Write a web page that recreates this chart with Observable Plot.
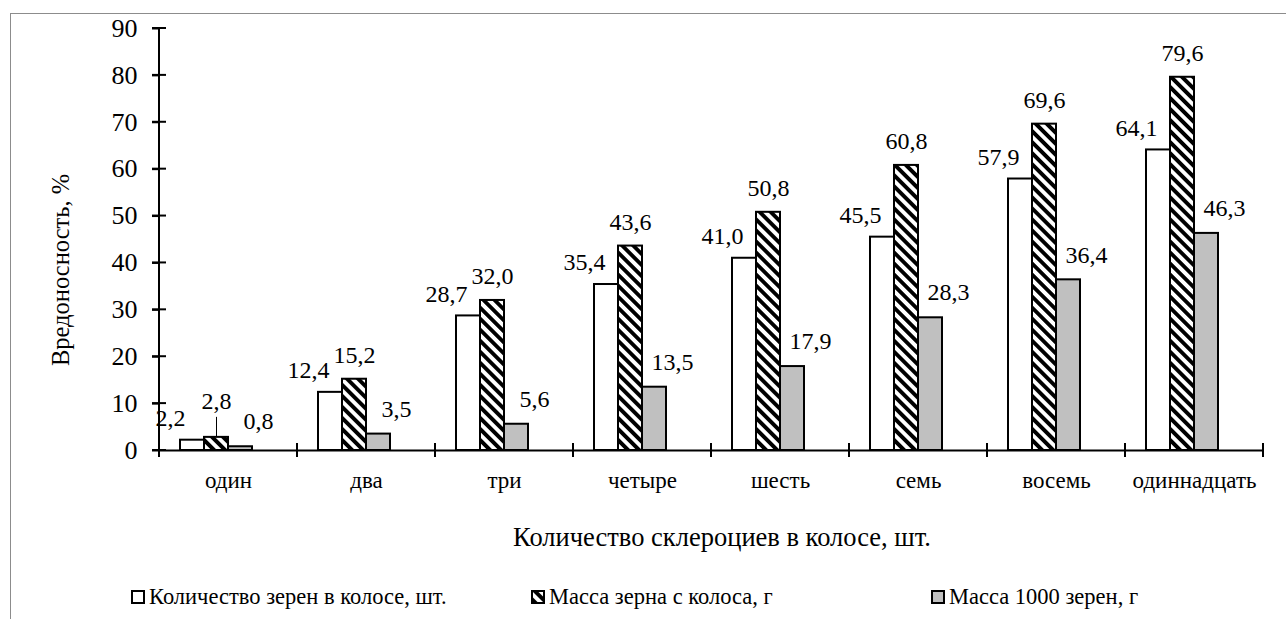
<!DOCTYPE html>
<html><head><meta charset="utf-8">
<script src="https://cdn.jsdelivr.net/npm/d3@7"></script>
<script src="https://cdn.jsdelivr.net/npm/@observablehq/plot@0.6"></script>
<style>
html,body{margin:0;padding:0;background:#fff;}
body{width:1286px;height:619px;position:relative;overflow:hidden;color:#000;}
#frame{position:absolute;left:10px;top:13px;width:2000px;height:2000px;border-left:1.5px solid #8c8c8c;border-top:1.5px solid #8c8c8c;}
#chart{position:absolute;left:0;top:0;}
#legend{position:absolute;left:131px;top:582px;display:flex;font-size:22.5px;line-height:30px;}
.item{width:400px;display:flex;align-items:center;}
.item svg{margin-right:4px;}
#ytitle{position:absolute;left:61px;top:270px;font-size:24.5px;white-space:nowrap;transform:translate(-50%,-50%) rotate(-90deg);line-height:1;}
#xtitle{position:absolute;left:722px;top:537px;font-size:26.5px;white-space:nowrap;transform:translate(-50%,-50%);line-height:1;}
</style></head><body>
<div id="frame"></div>
<div id="chart"></div>
<div id="ytitle"></div>
<div id="xtitle"></div>
<div id="legend"></div>
<script>
const categories = ["один","два","три","четыре","шесть","семь","восемь","одиннадцать"];
const seriesNames = ["Количество зерен в колосе, шт.","Масса зерна с колоса, г","Масса 1000 зерен, г"];
const grainsPerEar = [2.2,12.4,28.7,35.4,41.0,45.5,57.9,64.1];
const grainMassPerEar = [2.8,15.2,32.0,43.6,50.8,60.8,69.6,79.6];
const thousandGrainMass = [0.8,3.5,5.6,13.5,17.9,28.3,36.4,46.3];
const yTicks = [0,10,20,30,40,50,60,70,80,90];
const yTitle = "Вредоносность, %";
const xTitle = "Количество склероциев в колосе, шт.";

const FONT = "'Liberation Serif', 'Times New Roman', serif";
document.body.style.fontFamily = FONT;

const seriesValues = [grainsPerEar, grainMassPerEar, thousandGrainMass];
const fills = ["white", "url(#hatch)", "#c0c0c0"];
const rows = [];
categories.forEach((c, i) => seriesValues.forEach((vals, s) => rows.push({cat: c, series: seriesNames[s], value: vals[i]})));
const fmt = v => v.toFixed(1).replace(".", ",");
const bySeries = s => rows.filter(d => d.series === seriesNames[s]);
const LBL = 24;

const plot = Plot.plot({
  width: 1286, height: 560,
  marginTop: 28, marginBottom: 110, marginLeft: 155, marginRight: 20,
  style: {fontSize: "22px", color: "black", background: "transparent", overflow: "visible"},
  fx: {domain: categories, padding: 0},
  x: {domain: [...seriesNames, " "], paddingInner: 0, paddingOuter: 0.775, axis: null},
  y: {domain: [0, 90]},
  color: {domain: seriesNames, range: fills},
  marks: [
    Plot.barY(rows, {fx: "cat", x: "series", y: "value", fill: "series", stroke: "black", strokeWidth: 2}),
    Plot.ruleY([0], {stroke: "black", strokeWidth: 2}),
    Plot.text(bySeries(0), {fx: "cat", x: "series", y: "value", text: d => fmt(d.value), dx: -22, dy: -22, fontSize: LBL, fill: "black"}),
    Plot.text(bySeries(1).filter(d => d.value >= 5), {fx: "cat", x: "series", y: "value", text: d => fmt(d.value), dy: -24, fontSize: LBL, fill: "black"}),
    Plot.text(bySeries(1).filter(d => d.value < 5), {fx: "cat", x: "series", y: "value", text: d => fmt(d.value), dy: -36, fontSize: LBL, fill: "black"}),
    Plot.ruleX(bySeries(1).filter(d => d.value < 5), {fx: "cat", x: "series", y1: "value", y2: "value", insetTop: -20, stroke: "black", strokeWidth: 1}),
    Plot.text(bySeries(2), {fx: "cat", x: "series", y: "value", text: d => fmt(d.value), dx: 18, dy: -25, fontSize: LBL, fill: "black"}),
    Plot.axisY({anchor: "left", ticks: yTicks, tickSize: 7, tickPadding: 15, fontSize: 26, label: null, strokeWidth: 2}),
    Plot.axisFx({anchor: "bottom", tickSize: 0, tickPadding: 21, fontSize: 23, label: null})
  ]
});
document.getElementById("chart").appendChild(plot);

const svgEl = plot.tagName.toLowerCase() === "svg" ? plot : plot.querySelector("svg");
const svg = d3.select(svgEl);
svg.style("font-family", FONT);
svg.selectAll("text").style("font-family", FONT);
const defs = svg.insert("defs", ":first-child");
function addPattern(d, id) {
  const p = d.append("pattern").attr("id", id).attr("patternUnits", "userSpaceOnUse")
    .attr("width", 7.8).attr("height", 7.8).attr("patternTransform", "rotate(-45)");
  p.append("rect").attr("width", 7.8).attr("height", 7.8).attr("fill", "white");
  p.append("rect").attr("width", 3.9).attr("height", 7.8).attr("fill", "black");
}
addPattern(defs, "hatch");

// axis lines and crossing ticks from the plot's scales
const y = plot.scale("y"), fx = plot.scale("fx");
const x0 = fx.apply(categories[0]);
const g = svg.append("g").attr("stroke", "black").attr("stroke-width", 2);
g.append("line").attr("x1", x0).attr("x2", x0).attr("y1", y.apply(0)).attr("y2", y.apply(90));
yTicks.forEach(v => g.append("line").attr("x1", x0 - 7).attr("x2", x0 + 7).attr("y1", y.apply(v)).attr("y2", y.apply(v)));
g.append("line").attr("x1", x0 - 7).attr("x2", x0).attr("y1", y.apply(0)).attr("y2", y.apply(0));
const bounds = categories.map(c => fx.apply(c)).concat([fx.apply(categories[categories.length - 1]) + fx.bandwidth]);
bounds.forEach(bx => g.append("line").attr("x1", bx).attr("x2", bx).attr("y1", y.apply(0) - 7).attr("y2", y.apply(0) + 7));

d3.select("#ytitle").style("font-family", FONT).text(yTitle);
d3.select("#xtitle").style("font-family", FONT).text(xTitle);

// legend
const legend = d3.select("#legend").style("font-family", FONT);
seriesNames.forEach((name, i) => {
  const item = legend.append("div").attr("class", "item");
  const sw = item.append("svg").attr("width", 14).attr("height", 14);
  if (i === 1) addPattern(sw.append("defs"), "hatchL");
  sw.append("rect").attr("x", 1).attr("y", 1).attr("width", 12).attr("height", 12)
    .attr("fill", i === 1 ? "url(#hatchL)" : fills[i]).attr("stroke", "black").attr("stroke-width", 2);
  item.append("span").style("font-family", FONT).text(name);
});
</script>
</body></html>
